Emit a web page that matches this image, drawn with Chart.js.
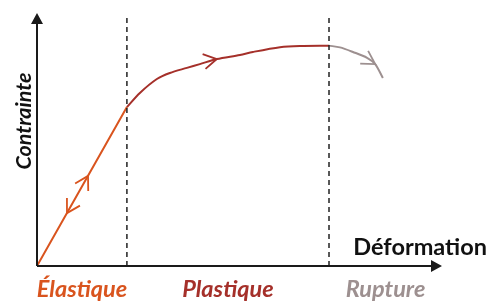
<!DOCTYPE html>
<html>
<head>
<meta charset="utf-8">
<script src="https://cdn.jsdelivr.net/npm/chart.js@4"></script>
<style>
  html, body { margin: 0; padding: 0; background: #fff; }
  #wrap { width: 488px; height: 302px; }
</style>
</head>
<body>
<div id="wrap"><canvas id="chart" width="488" height="302"></canvas></div>
<script>
// axis ranges (arbitrary units)
const xMax = 100;
const yMax = 100;

// phase boundaries on the deformation axis
const phaseNames = ['Élastique', 'Plastique', 'Rupture'];
const phaseBounds = [0, 22.2, 72.1, 100];
const phaseColors = ['#d9541e', '#a5302a', '#9d9090'];

// curve, one list per phase
const elastic = [{x: 0, y: 0}, {x: 22.2, y: 62.8}];
const plastic = [
  {x: 22.2, y: 62.8}, {x: 25.4, y: 68.4}, {x: 29.6, y: 73.9}, {x: 32.8, y: 76.3},
  {x: 37.0, y: 78.3}, {x: 40.2, y: 79.8}, {x: 44.4, y: 81.8}, {x: 50.1, y: 83.4},
  {x: 53.3, y: 84.6}, {x: 60.0, y: 86.5}, {x: 64.9, y: 87.0}, {x: 72.1, y: 87.1}
];
const rupture = [
  {x: 72.1, y: 87.1}, {x: 74.8, y: 86.4}, {x: 78.0, y: 84.6}, {x: 81.5, y: 82.3},
  {x: 83.5, y: 79.8}, {x: 85.4, y: 74.3}
];
const dashTop = 98;

// arrow markers: tip point and a point in the direction it points to
const arrows = [
  {x: 12.6, y: 35.6, tx: 14, ty: 39.6, color: phaseColors[0]},
  {x: 7.4, y: 20.9, tx: 6, ty: 17, color: phaseColors[0]},
  {x: 44.4, y: 81.8, tx: 53.3, ty: 84.6, color: phaseColors[1]},
  {x: 83.5, y: 79.8, tx: 86, ty: 77.3, color: phaseColors[2]}
];

const xTitle = 'Déformation';
const yTitle = 'Contrainte';

function line(data, color, dash) {
  return {
    data: data,
    showLine: true,
    borderColor: color,
    borderWidth: dash ? 1.5 : 2,
    borderDash: dash ? [5, 4] : [],
    pointRadius: 0,
    tension: dash ? 0 : 0.3,
    fill: false
  };
}

const sketch = {
  id: 'sketch',
  afterDatasetsDraw(chart) {
    const ctx = chart.ctx;
    const xs = chart.scales.x, ys = chart.scales.y;
    const x0 = xs.getPixelForValue(0), y0 = ys.getPixelForValue(0);
    const xE = xs.getPixelForValue(xMax), yE = ys.getPixelForValue(yMax);
    ctx.save();
    // axes with arrowheads
    ctx.strokeStyle = '#1a1a1a';
    ctx.fillStyle = '#1a1a1a';
    ctx.lineWidth = 2;
    ctx.beginPath();
    ctx.moveTo(x0, y0); ctx.lineTo(xE - 8, y0);
    ctx.moveTo(x0, y0); ctx.lineTo(x0, yE + 8);
    ctx.stroke();
    ctx.beginPath();
    ctx.moveTo(xE, y0); ctx.lineTo(xE - 11, y0 - 6); ctx.lineTo(xE - 11, y0 + 6); ctx.closePath();
    ctx.moveTo(x0, yE); ctx.lineTo(x0 - 6, yE + 11); ctx.lineTo(x0 + 6, yE + 11); ctx.closePath();
    ctx.fill();

    // arrow markers on the curve
    ctx.lineWidth = 1.8;
    arrows.forEach(a => {
      const px = xs.getPixelForValue(a.x), py = ys.getPixelForValue(a.y);
      const qx = xs.getPixelForValue(a.tx), qy = ys.getPixelForValue(a.ty);
      const ang = Math.atan2(py - qy, px - qx);
      const L = 15, h = Math.PI / 6;
      ctx.strokeStyle = a.color;
      ctx.beginPath();
      ctx.moveTo(px + L * Math.cos(ang + h), py + L * Math.sin(ang + h));
      ctx.lineTo(px, py);
      ctx.lineTo(px + L * Math.cos(ang - h), py + L * Math.sin(ang - h));
      ctx.stroke();
    });

    // phase labels
    ctx.font = 'italic bold 23.5px Lato';
    ctx.textAlign = 'center';
    ctx.textBaseline = 'alphabetic';
    phaseNames.forEach((n, i) => {
      const cx = (xs.getPixelForValue(phaseBounds[i]) + xs.getPixelForValue(phaseBounds[i + 1])) / 2;
      ctx.fillStyle = phaseColors[i];
      ctx.fillText(n, cx, y0 + 31);
    });

    // axis titles
    ctx.fillStyle = '#111';
    ctx.font = 'bold 23.5px Lato';
    ctx.textAlign = 'right';
    ctx.fillText(xTitle, 487, y0 - 11);
    ctx.save();
    ctx.translate(x0 - 6, 121);
    ctx.rotate(-Math.PI / 2);
    ctx.textAlign = 'center';
    ctx.font = 'italic bold 21.5px Lato';
    ctx.fillText(yTitle, 0, 0);
    ctx.restore();
    ctx.restore();
  }
};

new Chart(document.getElementById('chart').getContext('2d'), {
  type: 'scatter',
  data: {
    datasets: [
      line([{x: phaseBounds[1], y: 0}, {x: phaseBounds[1], y: dashTop}], '#222', true),
      line([{x: phaseBounds[2], y: 0}, {x: phaseBounds[2], y: dashTop}], '#222', true),
      line(elastic, phaseColors[0]),
      line(plastic, phaseColors[1]),
      line(rupture, phaseColors[2])
    ]
  },
  options: {
    responsive: false,
    animation: false,
    layout: { padding: { left: 37, right: 46, top: 13, bottom: 36 } },
    plugins: { legend: { display: false }, tooltip: { enabled: false } },
    scales: {
      x: { type: 'linear', min: 0, max: xMax, display: false },
      y: { type: 'linear', min: 0, max: yMax, display: false }
    }
  },
  plugins: [sketch]
});
</script>
</body>
</html>
